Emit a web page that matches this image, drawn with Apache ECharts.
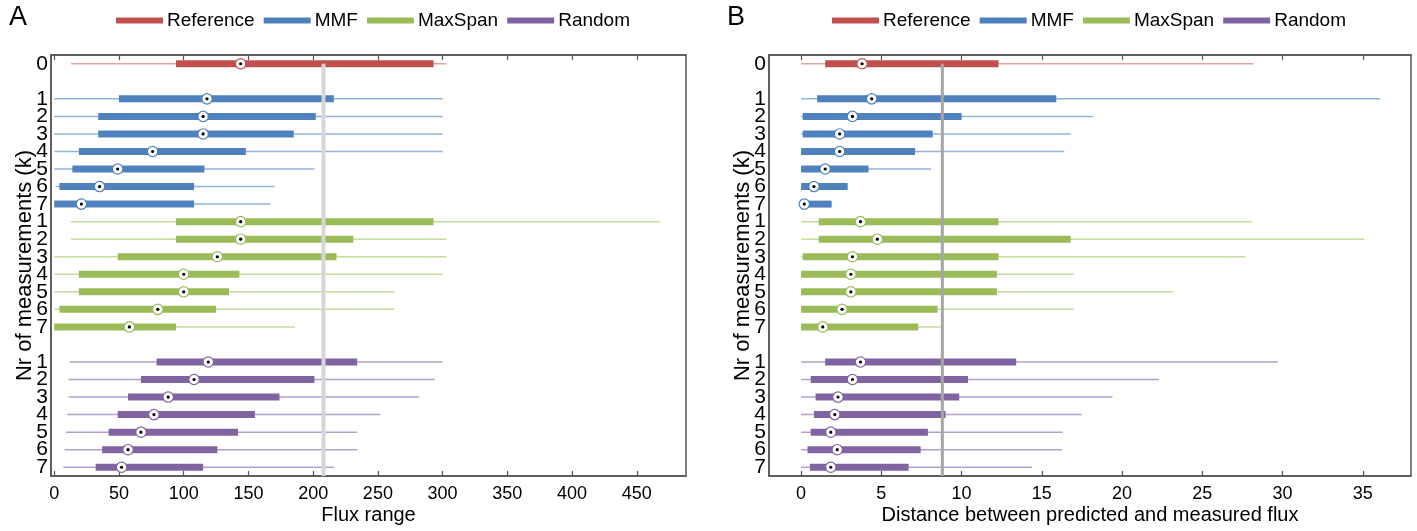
<!DOCTYPE html>
<html>
<head>
<meta charset="utf-8">
<script src="https://cdn.jsdelivr.net/npm/echarts@6/dist/echarts.min.js"></script>
<style>
    html, body { margin: 0; padding: 0; background: #fff; }
    #chart { width: 1417px; height: 531px; }
</style>
</head>
<body>
<div id="chart"></div>
<script>
// row slots on the y axis (0 = reference, 1 and 16 are empty gaps)
const rowLabels = ['0', '', '1', '2', '3', '4', '5', '6', '7',
    '1', '2', '3', '4', '5', '6', '7', '', '1', '2', '3', '4', '5', '6', '7'];
const groupNames = ['Reference', 'MMF', 'MaxSpan', 'Random'];
const groupColors = ['#c0504d', '#4f81bd', '#9bbb59', '#8064a2'];
const whiskerColors = ['#e3a5a3', '#93b3dc', '#c6db9e', '#b3a2cf'];
const groupRows = [[0], [2, 3, 4, 5, 6, 7, 8], [9, 10, 11, 12, 13, 14, 15], [17, 18, 19, 20, 21, 22, 23]];

// [min, q1, median, q3, max] per row
const fluxReference = [[13, 94, 144, 293, 303]];
const fluxMMF = [
    [0, 50, 118, 216, 300],
    [0, 34, 115, 202, 300],
    [0, 34, 115, 185, 300],
    [0, 19, 76, 148, 300],
    [0, 14, 49, 116, 201],
    [1, 4, 35, 108, 170],
    [0, 0, 21, 108, 167]
];
const fluxMaxSpan = [
    [13, 94, 144, 293, 468],
    [13, 94, 144, 231, 303],
    [0, 49, 126, 218, 303],
    [0, 19, 100, 143, 300],
    [0, 19, 100, 135, 263],
    [0, 4, 80, 125, 263],
    [0, 0, 58, 94, 186]
];
const fluxRandom = [
    [12, 79, 119, 234, 300],
    [11, 67, 108, 201, 294],
    [11, 57, 88, 174, 282],
    [10, 49, 77, 155, 252],
    [9, 42, 67, 142, 234],
    [8, 37, 57, 126, 234],
    [7, 32, 52, 115, 216]
];

const distReference = [[0, 1.5, 3.8, 12.3, 28.2]];
const distMMF = [
    [0, 1.0, 4.4, 15.9, 36.1],
    [0, 0.1, 3.2, 10.0, 18.2],
    [0, 0.1, 2.4, 8.2, 16.8],
    [0, 0, 2.4, 7.1, 16.4],
    [0, 0, 1.5, 4.2, 8.1],
    [0, 0, 0.8, 2.9, 2.9],
    [0, 0, 0.2, 1.9, 1.9]
];
const distMaxSpan = [
    [0, 1.1, 3.7, 12.3, 28.1],
    [0, 1.1, 4.75, 16.8, 35.1],
    [0, 0.1, 3.2, 12.3, 27.7],
    [0, 0, 3.1, 12.2, 17.0],
    [0, 0, 3.1, 12.2, 23.2],
    [0, 0, 2.55, 8.5, 17.0],
    [0, 0, 1.35, 7.3, 8.7]
];
const distRandom = [
    [0, 1.5, 3.7, 13.4, 29.7],
    [0, 0.6, 3.2, 10.4, 22.3],
    [0, 0.9, 2.3, 9.85, 19.4],
    [0, 0.8, 2.1, 9.0, 17.5],
    [0, 0.6, 1.85, 7.9, 16.3],
    [0, 0.4, 2.25, 7.45, 16.25],
    [0, 0.55, 1.85, 6.7, 14.4]
];

const fluxLimit = 208;
const distLimit = 8.8;
const fluxTicks = [0, 50, 100, 150, 200, 250, 300, 350, 400, 450];
const distTicks = [0, 5, 10, 15, 20, 25, 30, 35];

const FONT = 'Liberation Sans';
const NARROW = '"Liberation Sans Narrow", "Liberation Sans"';

const makeRenderBox = function (gi) {
    return function (params, api) {
        const row = api.value(0);
        const pMin = api.coord([api.value(1), row]);
        const pQ1 = api.coord([api.value(2), row]);
        const pMed = api.coord([api.value(3), row]);
        const pQ3 = api.coord([api.value(4), row]);
        const pMax = api.coord([api.value(5), row]);
        const y = pMin[1];
        return {
            type: 'group',
            children: [
                {type: 'line', shape: {x1: pMin[0], y1: y, x2: pMax[0], y2: y},
                    style: {stroke: whiskerColors[gi], lineWidth: 1.5}},
                {type: 'rect', shape: {x: pQ1[0], y: y - 3.5, width: Math.max(pQ3[0] - pQ1[0], 1), height: 7},
                    style: {fill: groupColors[gi]}},
                {type: 'circle', shape: {cx: pMed[0], cy: y, r: 5.2},
                    style: {fill: '#fff', stroke: groupColors[gi], lineWidth: 1.2}, z2: 5},
                {type: 'circle', shape: {cx: pMed[0], cy: y, r: 1.6},
                    style: {fill: '#000'}, z2: 6}
            ]
        };
    };
};

const buildSeries = function (groups, xIdx, yIdx) {
    return groups.map(function (stats, gi) {
        return {
            name: groupNames[gi],
            type: 'custom',
            xAxisIndex: xIdx,
            yAxisIndex: yIdx,
            itemStyle: {color: groupColors[gi]},
            renderItem: makeRenderBox(gi),
            encode: {x: [1, 2, 3, 4, 5], y: 0},
            data: stats.map((s, i) => [groupRows[gi][i]].concat(s)),
            z: 2
        };
    });
};

const limitLine = function (value, xIdx, yIdx, color, width) {
    return {
        type: 'custom',
        xAxisIndex: xIdx,
        yAxisIndex: yIdx,
        z: 3,
        silent: true,
        encode: {x: 0, y: 1},
        data: [[value, 0]],
        renderItem: function (params, api) {
            const p = api.coord([api.value(0), 0]);
            const cs = params.coordSys;
            return {
                type: 'line',
                shape: {x1: p[0], y1: p[1], x2: p[0], y2: cs.y + cs.height},
                style: {stroke: color, lineWidth: width}
            };
        }
    };
};

const xAxisPair = function (gridIndex, min, max, ticks, name) {
    const base = {
        type: 'value',
        gridIndex: gridIndex,
        min: min,
        max: max,
        splitLine: {show: false},
        axisLine: {show: true, onZero: false, lineStyle: {color: '#555', width: 1.5}},
        axisTick: {show: true, inside: true, length: 5, customValues: ticks, lineStyle: {color: '#555', width: 1.2}}
    };
    return [
        Object.assign({}, base, {
            position: 'bottom',
            name: name,
            nameLocation: 'middle',
            nameGap: 29,
            nameMoveOverlap: false,
            nameTextStyle: {fontFamily: FONT, fontSize: 20, color: '#000'},
            axisLabel: {customValues: ticks, fontFamily: FONT, fontSize: 18, color: '#000', margin: 9}
        }),
        Object.assign({}, base, {
            position: 'top',
            axisLabel: {show: false}
        })
    ];
};

const yAxisFor = function (gridIndex) {
    return {
        type: 'category',
        gridIndex: gridIndex,
        inverse: true,
        data: rowLabels.map((l, i) => 'r' + i),
        axisLine: {show: true, onZero: false, lineStyle: {color: '#555', width: 1.5}},
        axisTick: {show: false},
        axisLabel: {
            interval: 0,
            fontFamily: NARROW,
            fontSize: 21,
            color: '#000',
            margin: 3,
            formatter: function (v, idx) {
                return rowLabels[idx];
            }
        },
        name: 'Nr of measurements (k)',
        nameLocation: 'middle',
        nameRotate: 90,
        nameGap: 15,
        nameMoveOverlap: false,
        nameTextStyle: {fontFamily: FONT, fontSize: 22, color: '#000'}
    };
};

const legendFor = function (left) {
    return {
        data: groupNames,
        left: left,
        top: 6,
        icon: 'rect',
        itemWidth: 47,
        itemHeight: 6,
        itemGap: 9,
        selectedMode: false,
        textStyle: {fontFamily: FONT, fontSize: 19, color: '#000', padding: [0, 0, 0, -1]}
    };
};

const chart = echarts.init(document.getElementById('chart'));
const option = {
    animation: false,
    backgroundColor: '#fff',
    grid: [
        {left: 51, top: 55, width: 635, height: 421, show: true, borderColor: '#555', borderWidth: 1.5},
        {left: 769, top: 55, width: 642, height: 421, show: true, borderColor: '#555', borderWidth: 1.5}
    ],
    legend: [legendFor(111), legendFor(827)],
    xAxis: xAxisPair(0, -2.5, 488, fluxTicks, 'Flux range')
        .concat(xAxisPair(1, -2, 38, distTicks, 'Distance between predicted and measured flux')),
    yAxis: [yAxisFor(0), yAxisFor(1)],
    graphic: [
        {type: 'text', left: 9, top: 4, style: {text: 'A', font: '27px "Liberation Sans"', fill: '#000'}},
        {type: 'text', left: 727, top: 4, style: {text: 'B', font: '27px "Liberation Sans"', fill: '#000'}}
    ],
    series: buildSeries([fluxReference, fluxMMF, fluxMaxSpan, fluxRandom], 0, 0)
        .concat(buildSeries([distReference, distMMF, distMaxSpan, distRandom], 2, 1))
        .concat([limitLine(fluxLimit, 0, 0, '#d6d6d6', 4), limitLine(distLimit, 2, 1, '#a6a6a6', 3)])
};
chart.setOption(option);
</script>
</body>
</html>
